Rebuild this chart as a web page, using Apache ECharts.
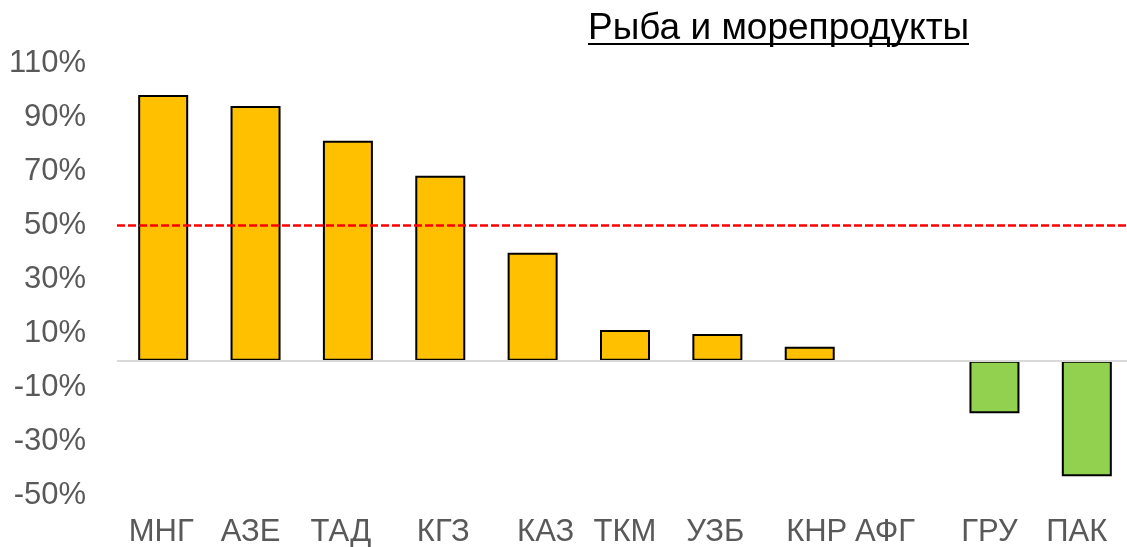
<!DOCTYPE html>
<html>
<head>
<meta charset="utf-8">
<script src="https://cdn.jsdelivr.net/npm/echarts@6/dist/echarts.min.js"></script>
<style>
  html, body { margin: 0; padding: 0; background: #fff; }
  #main { width: 1127px; height: 547px; }
</style>
</head>
<body>
<div id="main"></div>
<script>
var categories = ['МНГ', 'АЗЕ', 'ТАД', 'КГЗ', 'КАЗ', 'ТКМ', 'УЗБ', 'КНР', 'АФГ', 'ГРУ', 'ПАК'];
var values = [98.4, 94.3, 81.5, 68.5, 40.0, 11.4, 9.9, 5.2, 0, -19.5, -42.8];
var threshold = 50;
var tickLabels = [-50, -30, -10, 10, 30, 50, 70, 90, 110];

// small label nudges, like in the original picture
var labelShift = [-2, -5, -7, 3, 13, 0, -2, 7, -17, -5, -10];

var rich = {};
labelShift.forEach(function (s, i) {
    rich['c' + i] = {
        fontSize: 31,
        color: '#595959',
        fontFamily: 'Liberation Sans, Arial, sans-serif',
        padding: s >= 0 ? [0, 0, 0, 2 * s] : [0, -2 * s, 0, 0]
    };
});

var barData = values.map(function (v) {
    // an empty bar gets no outline
    return v === 0 ? { value: v, itemStyle: { borderWidth: 0 } } : v;
});

var chart = echarts.init(document.getElementById('main'));
var option = {
    animation: false,
    title: {
        text: 'Рыба и морепродукты',
        left: 588,
        top: 10,
        padding: 0,
        textStyle: {
            fontSize: 37,
            fontWeight: 'normal',
            color: '#000',
            fontFamily: 'Liberation Sans, Arial, sans-serif'
        }
    },
    graphic: [
        {
            type: 'rect',
            shape: { x: 588, y: 43, width: 381, height: 2 },
            style: { fill: '#000' }
        }
    ],
    grid: {
        left: 117,
        top: 63.7,
        width: 1016,
        height: 432,
        outerBoundsMode: 'none'
    },
    xAxis: {
        type: 'category',
        data: categories,
        axisLine: { show: false, onZero: false },
        axisTick: { show: false },
        axisLabel: {
            margin: 21,
            interval: 0,
            formatter: function (v, i) { return '{c' + i + '|' + v + '}'; },
            rich: rich
        }
    },
    yAxis: {
        type: 'value',
        min: -50,
        max: 110,
        interval: 10,
        splitLine: { show: false },
        axisLine: { show: false },
        axisTick: { show: false },
        axisLabel: {
            margin: 31,
            fontSize: 31,
            color: '#595959',
            fontFamily: 'Liberation Sans, Arial, sans-serif',
            formatter: function (v) {
                return tickLabels.indexOf(v) >= 0 ? v + '%' : '';
            }
        }
    },
    series: [
        {
            type: 'bar',
            data: barData,
            barWidth: 50,
            itemStyle: {
                color: function (p) { return p.value < 0 ? '#92d050' : '#ffc000'; },
                borderColor: '#000',
                borderWidth: 2
            },
            markLine: {
                symbol: 'none',
                silent: true,
                label: { show: false },
                data: [
                    {
                        yAxis: 0,
                        lineStyle: { color: '#d9d9d9', width: 2, type: 'solid' }
                    },
                    {
                        yAxis: threshold,
                        lineStyle: { color: '#ff0000', width: 2.5, type: [8, 3] }
                    }
                ]
            }
        }
    ]
};
chart.setOption(option);
</script>
</body>
</html>
